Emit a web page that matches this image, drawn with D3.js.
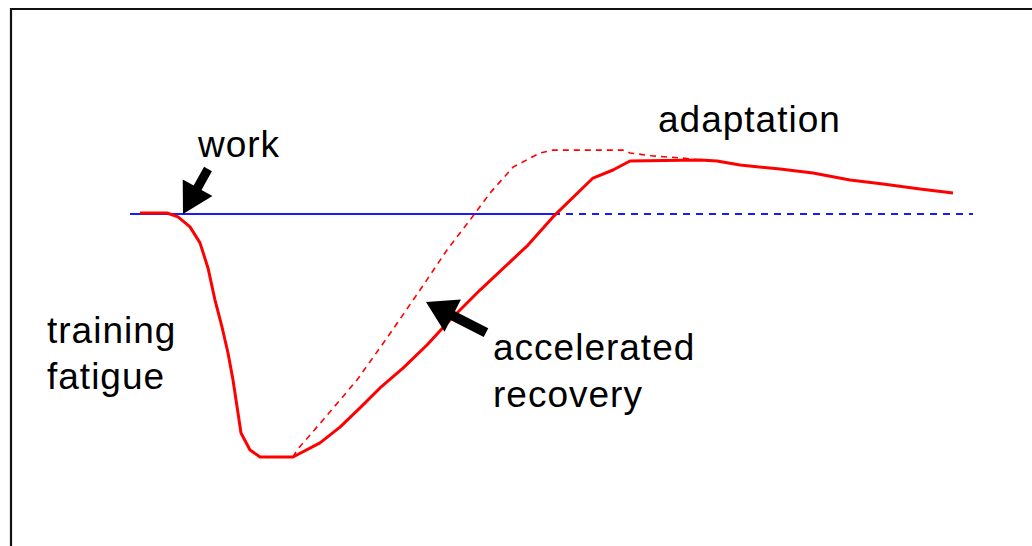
<!DOCTYPE html>
<html>
<head>
<meta charset="utf-8">
<script src="https://cdn.jsdelivr.net/npm/d3@7"></script>
<style>
    body { margin: 0; background: #fff; }
    text { font-family: "Liberation Sans", Arial, sans-serif; font-size: 37px; fill: #000; letter-spacing: 1px; }
</style>
</head>
<body>
<svg id="chart" width="1032" height="546"></svg>
<script>
// time (arbitrary units) and performance level (baseline = 0, deepest fatigue = -100)
var workDays = [1.0, 3.7, 4.8, 6.0, 7.0, 7.8, 8.5, 9.2, 9.8, 10.3, 10.8, 11.1, 12.0, 13.0, 16.3, 19.0, 21.0, 23.0, 25.0, 27.3, 29.7, 32.0, 35.0, 39.8, 42.3, 46.3, 48.3, 50.0, 57.0, 58.7, 61.0, 65.0, 68.3, 72.0, 75.3, 79.0, 82.3];
var workLevel = [0.4, 0.4, -1.2, -5.3, -11.9, -22.2, -35.4, -46.5, -57.2, -68.3, -81.9, -90.1, -97.1, -100, -100, -94.2, -87.7, -79.8, -71.6, -63.4, -53.9, -43.6, -31.3, -12.8, -1.2, 14.8, 18.1, 21.8, 22.2, 21.8, 20.2, 18.5, 16.9, 14.0, 12.3, 10.3, 8.6];

var fastDays = [16.3, 16.7, 19.3, 22.7, 25.7, 29.0, 31.7, 34.0, 36.0, 38.3, 41.0, 42.3, 49.3, 50.0, 52.3, 55.3, 57.0];
var fastLevel = [-100, -97.1, -84.8, -68.3, -51.0, -31.3, -14.8, -2.5, 8.6, 19.3, 25.1, 26.3, 26.3, 25.1, 23.9, 23.0, 22.2];

var baseSolid = [0, 42.3];
var baseDashed = [42.3, 84.3];

// arrows: [tipDay, tipLevel, tailDay, tailLevel]
var workArrow = [5.3, 0, 7.8, 18.5];
var recoveryArrow = [29.6, -36.2, 35.6, -48.8];

var svg = d3.select('#chart');

var x = d3.scaleLinear().domain([0, 85]).range([130, 980]);
var y = d3.scaleLinear().domain([-100, 0]).range([457, 214]);

function zip(xs, ys) {
    return xs.map(function (d, i) { return [d, ys[i]]; });
}

var line = d3.line()
    .x(function (d) { return x(d[0]); })
    .y(function (d) { return y(d[1]); });

// frame (only top and left edges are visible in the crop)
svg.append('path')
    .attr('d', 'M11,560V9H1040')
    .attr('fill', 'none')
    .attr('stroke', '#111')
    .attr('stroke-width', 2.2);

// baseline
svg.append('path')
    .attr('d', line(baseSolid.map(function (d) { return [d, 0]; })))
    .attr('fill', 'none')
    .attr('stroke', '#1a1aff')
    .attr('stroke-width', 2.2);

svg.append('path')
    .attr('d', line(baseDashed.map(function (d) { return [d, 0]; })))
    .attr('fill', 'none')
    .attr('stroke', '#1a1aff')
    .attr('stroke-width', 2.2)
    .attr('stroke-dasharray', '7,6');

// accelerated recovery curve
svg.append('path')
    .attr('d', line(zip(fastDays, fastLevel)))
    .attr('fill', 'none')
    .attr('stroke', '#ff0000')
    .attr('stroke-width', 1.6)
    .attr('stroke-dasharray', '6,5');

// normal curve
svg.append('path')
    .attr('d', line(zip(workDays, workLevel)))
    .attr('fill', 'none')
    .attr('stroke', '#ff0000')
    .attr('stroke-width', 3)
    .attr('stroke-linejoin', 'round');

function arrow(a, headLen, headWidth, shaftWidth) {
    var tx = x(a[0]), ty = y(a[1]), sx = x(a[2]), sy = y(a[3]);
    var dx = sx - tx, dy = sy - ty;
    var len = Math.sqrt(dx * dx + dy * dy);
    var ux = dx / len, uy = dy / len;
    var px = -uy, py = ux;
    var bx = tx + ux * headLen, by = ty + uy * headLen;
    var pts = [
        [tx, ty],
        [bx + px * headWidth / 2, by + py * headWidth / 2],
        [bx + px * shaftWidth / 2, by + py * shaftWidth / 2],
        [sx + px * shaftWidth / 2, sy + py * shaftWidth / 2],
        [sx - px * shaftWidth / 2, sy - py * shaftWidth / 2],
        [bx - px * shaftWidth / 2, by - py * shaftWidth / 2],
        [bx - px * headWidth / 2, by - py * headWidth / 2]
    ];
    svg.append('polygon')
        .attr('points', pts.map(function (p) { return p.join(','); }).join(' '))
        .attr('fill', '#000');
}

arrow(workArrow, 30, 34, 9);
arrow(recoveryArrow, 30, 36, 10);

// labels
var labels = [
    { text: 'work', x: 198, y: 157 },
    { text: 'adaptation', x: 658, y: 132 },
    { text: 'training', x: 47, y: 343 },
    { text: 'fatigue', x: 47, y: 389 },
    { text: 'accelerated', x: 493, y: 360 },
    { text: 'recovery', x: 493, y: 407 }
];

svg.selectAll('.label')
    .data(labels)
    .enter().append('text')
    .attr('class', 'label')
    .attr('x', function (d) { return d.x; })
    .attr('y', function (d) { return d.y; })
    .text(function (d) { return d.text; });
</script>
</body>
</html>
